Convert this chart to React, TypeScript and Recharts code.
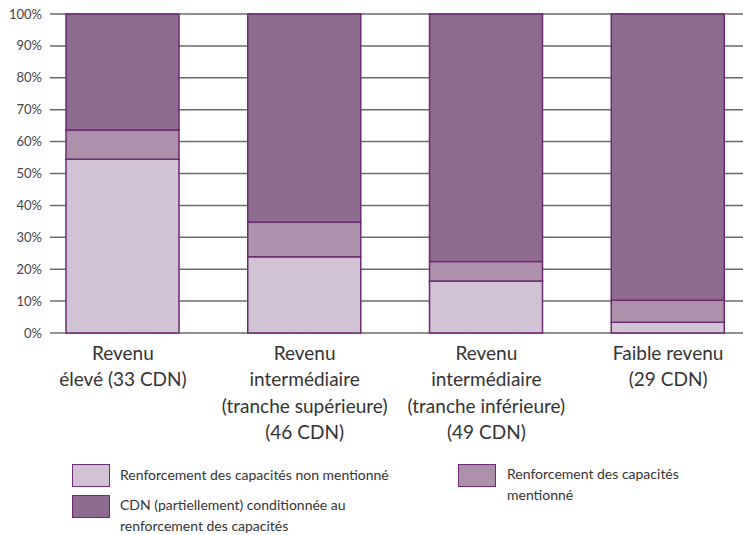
import React from "react";
import { BarChart, Bar, XAxis, YAxis, CartesianGrid } from "recharts";

const categories = ["Revenu élevé", "Revenu intermédiaire (tranche supérieure)", "Revenu intermédiaire (tranche inférieure)", "Faible revenu"];
const categoryLabelLines: string[][] = [
  ["Revenu", "élevé (33 CDN)"],
  ["Revenu", "intermédiaire", "(tranche supérieure)", "(46 CDN)"],
  ["Revenu", "intermédiaire", "(tranche inférieure)", "(49 CDN)"],
  ["Faible revenu", "(29 CDN)"],
];
const nonMentionne = [54.5, 23.9, 16.3, 3.4];
const mentionne = [9.1, 10.9, 6.1, 6.9];
const conditionnee = [36.4, 65.2, 77.6, 89.7];
const yTicks = [0, 10, 20, 30, 40, 50, 60, 70, 80, 90, 100];

const seriesNames = [
  "Renforcement des capacités non mentionné",
  "Renforcement des capacités mentionné",
  "CDN (partiellement) conditionnée au renforcement des capacités",
];

const COLORS = { light: "#d2c2d5", mid: "#ae90ac", dark: "#8f6a91", stroke: "#6c2a70" };
const FONT = "Lato, 'Open Sans', sans-serif";

const data = categories.map((c, i) => ({
  name: c,
  idx: i,
  nonMentionne: nonMentionne[i],
  mentionne: mentionne[i],
  conditionnee: conditionnee[i],
}));

const XTick = (props: any) => {
  const { x, y, payload } = props;
  const lines = categoryLabelLines[payload.index] || [String(payload.value)];
  return (
    <text x={x} y={y} textAnchor="middle" fill="#333" fontSize={19} fontFamily={FONT}>
      {lines.map((l, i) => (
        <tspan key={i} x={x} y={y + 27 + i * 26.3}>
          {l}
        </tspan>
      ))}
    </text>
  );
};

const YTick = (props: any) => {
  const { y, payload } = props;
  return (
    <text x={42} y={y + 4.5} textAnchor="end" fill="#444" fontSize={13} fontFamily={FONT}>
      {payload.value}%
    </text>
  );
};

const legendItems = [
  { color: COLORS.light, lines: ["Renforcement des capacités non mentionné"], sx: 72, sy: 464, tx: 120, ty: 475 },
  { color: COLORS.mid, lines: ["Renforcement des capacités", "mentionné"], sx: 458, sy: 464, tx: 507, ty: 474 },
  { color: COLORS.dark, lines: ["CDN (partiellement) conditionnée au", "renforcement des capacités"], sx: 72, sy: 495, tx: 120, ty: 505 },
];

const LegendBlock = () => (
  <div style={{ position: "absolute", left: 0, top: 0, width: 743, height: 535, fontFamily: FONT, pointerEvents: "none" }}>
    {legendItems.map((it, i) => (
      <React.Fragment key={i}>
        <div
          style={{
            position: "absolute",
            left: it.sx,
            top: it.sy,
            width: 36,
            height: 21,
            background: it.color,
            border: `1.5px solid ${COLORS.stroke}`,
          }}
        />
        {it.lines.map((l, j) => (
          <div
            key={j}
            style={{
              position: "absolute",
              left: it.tx,
              top: it.ty - 10 + j * 21,
              height: 20,
              lineHeight: "20px",
              fontSize: 14,
              color: "#333",
              whiteSpace: "nowrap",
            }}
          >
            {l}
          </div>
        ))}
      </React.Fragment>
    ))}
  </div>
);

export default function App() {
  return (
    <div style={{ position: "absolute", left: 0, top: 0, width: 743, height: 535, background: "#fff", overflow: "hidden" }}>
      <BarChart
        width={743}
        height={535}
        data={data}
        margin={{ top: 14, right: 0, left: 0, bottom: 0 }}
        barSize={113}
      >
        <CartesianGrid horizontal vertical={false} stroke="#6a6a6a" strokeWidth={1.5} />
        <XAxis
          dataKey="name"
          axisLine={false}
          tickLine={false}
          tickSize={0}
          tickMargin={0}
          interval={0}
          padding={{ left: -18, right: -16 }}
          tick={<XTick />}
          height={202}
        />
        <YAxis
          type="number"
          domain={[0, 100]}
          ticks={yTicks}
          width={50}
          axisLine={false}
          tickLine={false}
          tick={<YTick />}
          interval={0}
        />
        <Bar dataKey="nonMentionne" name={seriesNames[0]} stackId="a" fill={COLORS.light} stroke={COLORS.stroke} strokeWidth={1.5} isAnimationActive={false} />
        <Bar dataKey="mentionne" name={seriesNames[1]} stackId="a" fill={COLORS.mid} stroke={COLORS.stroke} strokeWidth={1.5} isAnimationActive={false} />
        <Bar dataKey="conditionnee" name={seriesNames[2]} stackId="a" fill={COLORS.dark} stroke={COLORS.stroke} strokeWidth={1.5} isAnimationActive={false} />
      </BarChart>
      <LegendBlock />
    </div>
  );
}
